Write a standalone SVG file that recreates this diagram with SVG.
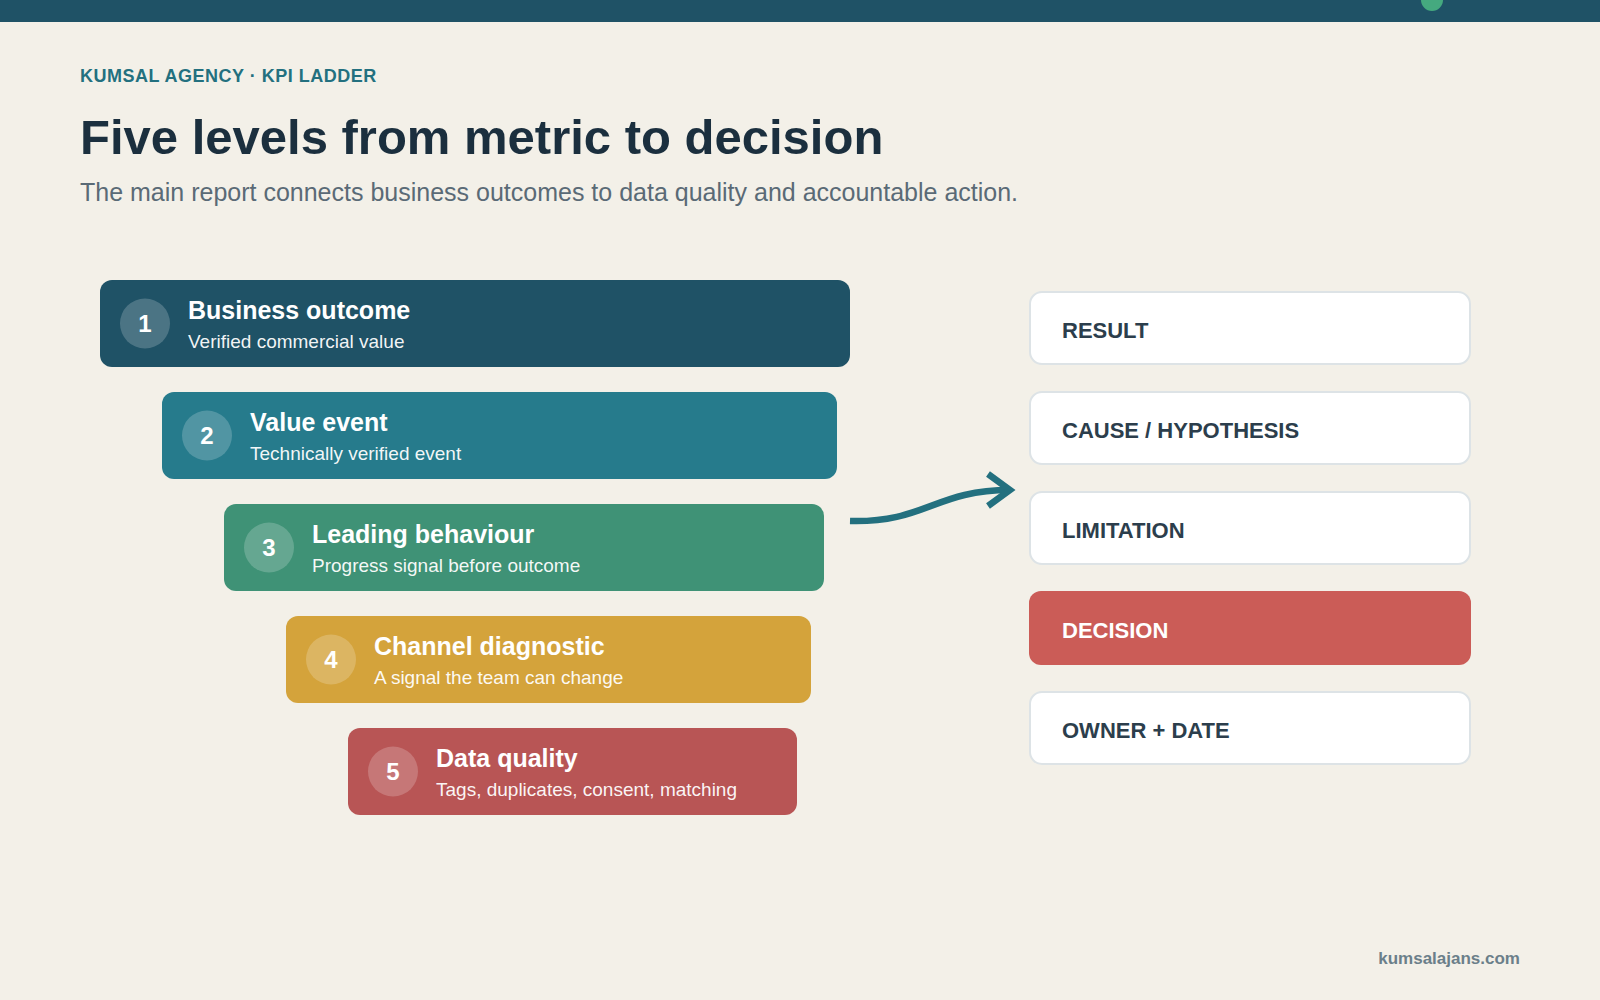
<svg xmlns="http://www.w3.org/2000/svg" width="1600" height="1000" viewBox="0 0 1600 1000">
  <defs>
    <style>
      .sans { font-family: "Liberation Sans", Arial, sans-serif; }
      .eyebrow { font-size: 18px; font-weight: 700; fill: #23707f; letter-spacing: 0.5px; }
      .title { font-size: 49px; font-weight: 700; fill: #1b2f3e; }
      .subtitle { font-size: 25px; fill: #5a6a76; }
      .lvl-title { font-size: 25px; font-weight: 700; fill: #ffffff; }
      .lvl-sub { font-size: 19px; fill: #ffffff; fill-opacity: 0.95; }
      .num-bg { fill: #ffffff; fill-opacity: 0.2; }
      .num { font-size: 24px; font-weight: 700; fill: #ffffff; text-anchor: middle; }
      .card { fill: #ffffff; stroke: #dde3e6; stroke-width: 2; }
      .card-text { font-size: 22px; font-weight: 700; fill: #2c3e4c; }
      .footer { font-size: 17px; font-weight: 700; fill: #6b7f8a; text-anchor: end; }
      .conn { fill: none; stroke: #23707f; stroke-width: 6.5; }
    </style>
    <marker id="chev" viewBox="0 0 30 40" refX="24" refY="20" markerWidth="30" markerHeight="40" markerUnits="userSpaceOnUse" orient="auto">
      <path d="M2 4 L24 20 L2 36" fill="none" stroke="#23707f" stroke-width="6.5"/>
    </marker>
  </defs>

  <rect x="0" y="0" width="1600" height="1000" fill="#f3f0e8"/>
  <rect x="0" y="0" width="1600" height="22" fill="#1f5266"/>
  <circle cx="1432" cy="0" r="11" fill="#45a97f"/>

  <g id="header" class="sans">
    <text class="eyebrow" x="80" y="82">KUMSAL AGENCY · KPI LADDER</text>
    <text class="title" x="80" y="154">Five levels from metric to decision</text>
    <text class="subtitle" x="80" y="201">The main report connects business outcomes to data quality and accountable action.</text>
  </g>

  <g id="level-1" class="sans">
    <rect x="100" y="280" width="750" height="87" rx="12" fill="#1f5266"/>
    <circle class="num-bg" cx="145" cy="323.5" r="25"/>
    <text class="num" x="145" y="332">1</text>
    <text class="lvl-title" x="188" y="319">Business outcome</text>
    <text class="lvl-sub" x="188" y="348">Verified commercial value</text>
  </g>

  <g id="level-2" class="sans">
    <rect x="162" y="392" width="675" height="87" rx="12" fill="#267b8c"/>
    <circle class="num-bg" cx="207" cy="435.5" r="25"/>
    <text class="num" x="207" y="444">2</text>
    <text class="lvl-title" x="250" y="431">Value event</text>
    <text class="lvl-sub" x="250" y="460">Technically verified event</text>
  </g>

  <g id="level-3" class="sans">
    <rect x="224" y="504" width="600" height="87" rx="12" fill="#3f9276"/>
    <circle class="num-bg" cx="269" cy="547.5" r="25"/>
    <text class="num" x="269" y="556">3</text>
    <text class="lvl-title" x="312" y="543">Leading behaviour</text>
    <text class="lvl-sub" x="312" y="572">Progress signal before outcome</text>
  </g>

  <g id="level-4" class="sans">
    <rect x="286" y="616" width="525" height="87" rx="12" fill="#d4a33b"/>
    <circle class="num-bg" cx="331" cy="659.5" r="25"/>
    <text class="num" x="331" y="668">4</text>
    <text class="lvl-title" x="374" y="655">Channel diagnostic</text>
    <text class="lvl-sub" x="374" y="684">A signal the team can change</text>
  </g>

  <g id="level-5" class="sans">
    <rect x="348" y="728" width="449" height="87" rx="12" fill="#b85555"/>
    <circle class="num-bg" cx="393" cy="771.5" r="25"/>
    <text class="num" x="393" y="780">5</text>
    <text class="lvl-title" x="436" y="767">Data quality</text>
    <text class="lvl-sub" x="436" y="796">Tags, duplicates, consent, matching</text>
  </g>

  <g id="connectors">
    <path class="conn" d="M850 521 C 925 523, 935 490, 1010 490" marker-end="url(#chev)"/>
  </g>

  <g id="card-result" class="sans">
    <rect class="card" x="1030" y="292" width="440" height="72" rx="12"/>
    <text class="card-text" x="1062" y="338">RESULT</text>
  </g>
  <g id="card-cause" class="sans">
    <rect class="card" x="1030" y="392" width="440" height="72" rx="12"/>
    <text class="card-text" x="1062" y="438">CAUSE / HYPOTHESIS</text>
  </g>
  <g id="card-limitation" class="sans">
    <rect class="card" x="1030" y="492" width="440" height="72" rx="12"/>
    <text class="card-text" x="1062" y="538">LIMITATION</text>
  </g>
  <g id="card-decision" class="sans">
    <rect x="1029" y="591" width="442" height="74" rx="12" fill="#cb5c57"/>
    <text class="card-text" x="1062" y="638" style="fill:#ffffff">DECISION</text>
  </g>
  <g id="card-owner" class="sans">
    <rect class="card" x="1030" y="692" width="440" height="72" rx="12"/>
    <text class="card-text" x="1062" y="738">OWNER + DATE</text>
  </g>

  <text class="sans footer" x="1520" y="964">kumsalajans.com</text>
</svg>
